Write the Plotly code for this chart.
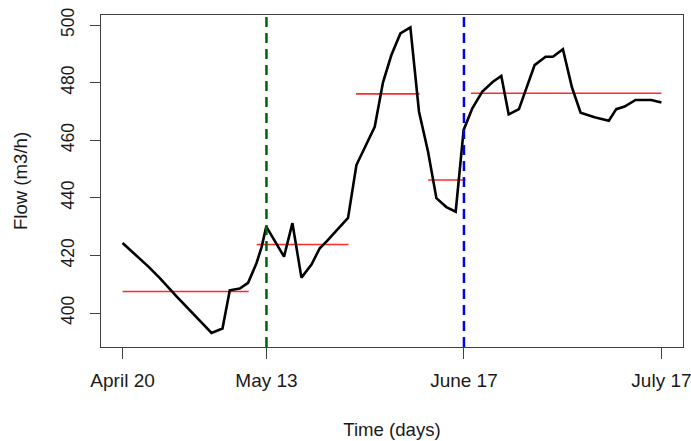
import plotly.graph_objects as go

# Observation times (days since April 20) and flow values
days = [0, 4.18, 6.09, 8.81, 14.53, 16.32, 17.51, 19.14, 20.50, 21.87, 22.69, 23.47,
        26.37, 27.74, 29.21, 30.85, 32.20, 33.29, 36.82, 38.19, 41.18, 42.53, 43.90,
        45.37, 47.00, 48.41, 49.88, 51.25, 52.88, 54.40, 55.70, 57.12, 58.75, 60.48,
        61.85, 63.05, 64.73, 67.29, 69.08, 70.28, 71.91, 73.38, 74.80, 77.08, 79.41,
        80.62, 81.98, 83.77, 86.34, 88.0]
flow = [424.3, 416.2, 412.1, 405.8, 393.1, 394.6, 407.9, 408.5, 410.5, 417.3, 422.8, 430.0,
        419.6, 431.2, 412.3, 416.8, 422.5, 424.8, 433.0, 451.4, 464.7, 480.1, 489.6,
        497.1, 499.2, 469.9, 456.1, 439.9, 436.8, 435.2, 463.6, 471.1, 476.9, 480.3,
        482.3, 469.0, 470.8, 486.1, 489.0, 489.0, 491.6, 478.4, 469.6, 468.0, 466.8,
        470.8, 471.7, 474.0, 474.0, 473.1]

# Segment means (red horizontal lines)
seg_start = [0, 21.9, 38.1, 49.9, 56.9]
seg_end = [20.6, 36.9, 48.5, 56.0, 88.0]
seg_mean = [407.5, 423.8, 476.1, 446.2, 476.3]

# Event markers (vertical dashed lines)
event_days = [23.5, 55.75]
event_colors = ["#006400", "#0000ff"]

# Axis ticks
x_tickvals = [0, 23.5, 55.75, 88]
x_ticktext = ["April 20", "May 13", "June 17", "July 17"]
y_tickvals = [400, 420, 440, 460, 480, 500]

fig = go.Figure()

for s, e, m in zip(seg_start, seg_end, seg_mean):
    fig.add_trace(go.Scatter(x=[s, e], y=[m, m], mode="lines",
                             line=dict(color="#ff2a2a", width=1.6),
                             showlegend=False, hoverinfo="skip"))

fig.add_trace(go.Scatter(x=days, y=flow, mode="lines",
                         line=dict(color="black", width=2.6),
                         showlegend=False))

for d, c in zip(event_days, event_colors):
    fig.add_shape(type="line", xref="x", yref="paper", x0=d, x1=d, y0=0, y1=1,
                  line=dict(color=c, width=2.5, dash="10px,6px"), layer="above")

fig.update_layout(
    width=691, height=441,
    margin=dict(l=101, r=8, t=15, b=94, autoexpand=False),
    paper_bgcolor="white", plot_bgcolor="white",
    font=dict(family="Liberation Sans, Arial, sans-serif", color="#1a1a1a"),
)

fig.update_xaxes(
    range=[-3.52, 91.52], showgrid=False, zeroline=False, automargin=False,
    showline=True, mirror=True, linecolor="#404040", linewidth=1,
    ticks="outside", ticklen=11, tickcolor="#404040", tickwidth=1,
    tickvals=x_tickvals, ticktext=x_ticktext, ticklabeloverflow="allow",
    tickfont=dict(size=19, family="Liberation Sans, Arial, sans-serif"),
    ticklabelstandoff=5,
    title=dict(text="Time (days)", font=dict(size=18.6), standoff=33),
)
fig.update_yaxes(
    range=[388.2, 503.5], showgrid=False, zeroline=False, automargin=False,
    showline=True, mirror=True, linecolor="#404040", linewidth=1,
    ticks="outside", ticklen=10, tickcolor="#404040", tickwidth=1,
    tickvals=y_tickvals, tickangle=-90,
    tickfont=dict(size=17.5, family="Liberation Sans Narrow, Arial Narrow, sans-serif"),
    ticklabelstandoff=9,
    title=dict(text="Flow (m3/h)", font=dict(size=18.6), standoff=25),
)

fig.write_html("out.html", post_script="document.body.style.margin='0';",
               config={"displayModeBar": False})
